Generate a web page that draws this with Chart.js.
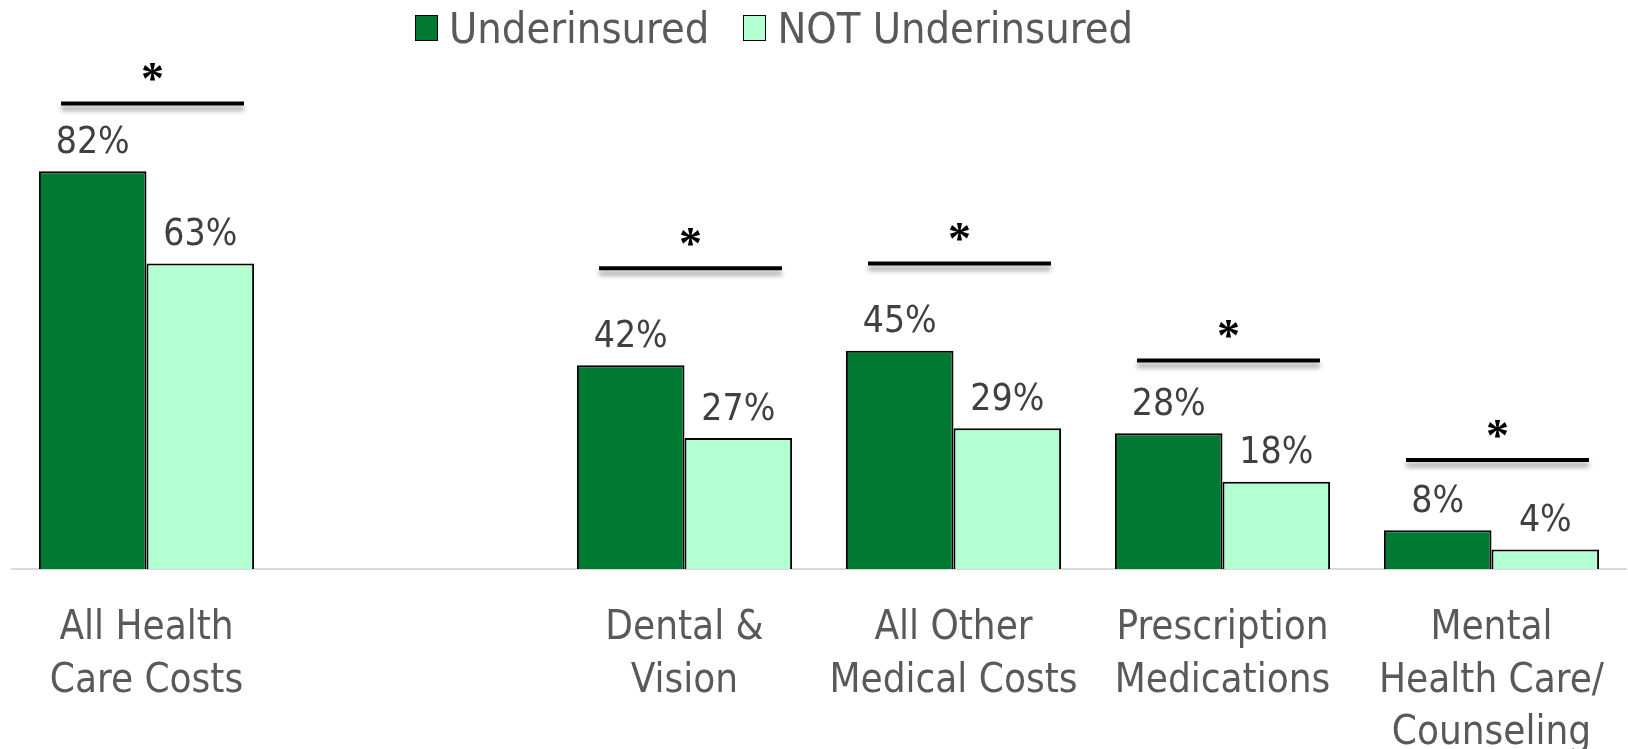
<!DOCTYPE html>
<html>
<head>
<meta charset="utf-8">
<script src="https://cdn.jsdelivr.net/npm/chart.js@4.4.1/dist/chart.umd.min.js"></script>
<style>
  html, body { margin: 0; padding: 0; background: #fff; }
  #wrap { position: relative; width: 1628px; height: 749px; }
  #legend {
    position: absolute; top: 3px; left: 415px;
    display: flex; align-items: center;
    font-family: 'Liberation Sans Narrow', 'DejaVu Sans Condensed', sans-serif;
    font-size: 43px; color: #595959;
  }
  #legend .item { display: flex; align-items: center; margin-right: 34px; }
  #legend .box { width: 21px; height: 24px; border: 1.5px solid #000; margin-right: 11px; }
</style>
</head>
<body>
<div id="wrap">
  <canvas id="chart" width="1628" height="749"></canvas>
  <div id="legend"></div>
</div>
<script>
const categories = [
  ["All Health", "Care Costs"],
  "",
  ["Dental &", "Vision"],
  ["All Other", "Medical Costs"],
  ["Prescription", "Medications"],
  ["Mental", "Health Care/", "Counseling"]
];
const underinsured = [82, null, 42, 45, 28, 8];
const notUnderinsured = [63, null, 27, 29, 18, 4];
// height (in %) of the significance bar drawn over each pair
const significance = [96, null, 62, 63, 43, 22.5];

const FONT = "'Liberation Sans Narrow', 'DejaVu Sans Condensed', sans-serif";
const darkGreen = "#007A33";
const lightGreen = "#B3FFD1";
const textGray = "#595959";

// ----------------- LEGEND -----------------
const series = [
  { label: "Underinsured", color: darkGreen },
  { label: "NOT Underinsured", color: lightGreen }
];
document.getElementById("legend").innerHTML = series.map(s =>
  `<div class="item"><span class="box" style="background:${s.color}"></span>${s.label}</div>`
).join("");

// ----------------- LABELS + SIGNIFICANCE -----------------
const overlayPlugin = {
  id: "overlay",
  afterDatasetsDraw(chart) {
    const ctx = chart.ctx;
    const x = chart.scales.x;
    const y = chart.scales.y;

    ctx.save();
    ctx.font = "37px " + FONT;
    ctx.fillStyle = "#404040";
    ctx.textAlign = "center";
    ctx.textBaseline = "middle";
    chart.data.datasets.forEach((ds, di) => {
      const meta = chart.getDatasetMeta(di);
      meta.data.forEach((bar, i) => {
        if (ds.data[i] == null) return;
        ctx.fillText(ds.data[i] + "%", bar.x, bar.y - 28);
      });
    });

    const half = x.width / categories.length * 0.34;
    significance.forEach((lvl, i) => {
      if (lvl == null) return;
      const cx = x.getPixelForValue(i) + 6;
      const py = y.getPixelForValue(lvl);
      ctx.save();
      ctx.shadowColor = "rgba(0,0,0,0.4)";
      ctx.shadowBlur = 5;
      ctx.shadowOffsetY = 5;
      ctx.strokeStyle = "#000";
      ctx.lineWidth = 4;
      ctx.beginPath();
      ctx.moveTo(cx - half, py);
      ctx.lineTo(cx + half, py);
      ctx.stroke();
      ctx.restore();

      ctx.fillStyle = "#000";
      ctx.font = "bold 46px 'Liberation Serif', serif";
      ctx.textBaseline = "alphabetic";
      ctx.fillText("*", cx, py - 9);
    });
    ctx.restore();
  }
};

const ctx = document.getElementById("chart").getContext("2d");
new Chart(ctx, {
  type: "bar",
  data: {
    labels: categories,
    datasets: [
      {
        label: series[0].label,
        data: underinsured,
        backgroundColor: darkGreen,
        borderColor: "#000",
        borderWidth: 2
      },
      {
        label: series[1].label,
        data: notUnderinsured,
        backgroundColor: lightGreen,
        borderColor: "#000",
        borderWidth: 2
      }
    ]
  },
  options: {
    responsive: false,
    animation: false,
    layout: { padding: { top: 84, left: 12, right: 2, bottom: 0 } },
    datasets: { bar: { categoryPercentage: 0.8, barPercentage: 1.0 } },
    plugins: {
      legend: { display: false },
      tooltip: { enabled: false }
    },
    scales: {
      x: {
        grid: { display: false, drawTicks: false },
        border: { color: "#D9D9D9", width: 2 },
        ticks: {
          color: textGray,
          font: { family: FONT, size: 40, lineHeight: 1.32 },
          padding: 33,
          maxRotation: 0,
          autoSkip: false
        },
        afterFit(scale) {
          scale.height = 180;
          // labels may overhang the edges, like the original
          scale.paddingLeft = 0;
          scale.paddingRight = 0;
        }
      },
      y: {
        display: false,
        min: 0,
        max: 100
      }
    }
  },
  plugins: [overlayPlugin]
});
</script>
</body>
</html>
